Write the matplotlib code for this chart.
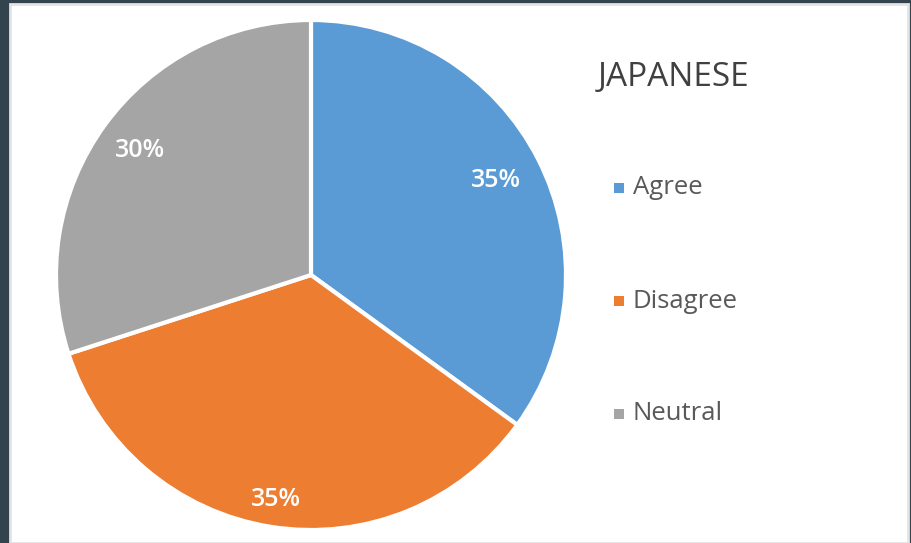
import matplotlib.pyplot as plt
from matplotlib.patches import Rectangle
import numpy as np

# Dados do gráfico
categorias = ['Agree', 'Disagree', 'Neutral']
valores = [35, 35, 30]
cores = ['#5B9BD5', '#ED7D31', '#A5A5A5']
titulo = 'JAPANESE'
dist_rotulos = [0.815, 0.89, 0.83]   # distância radial de cada rótulo percentual

plt.rcParams['font.family'] = ['Open Sans', 'DejaVu Sans']

W, H = 912, 543
fig = plt.figure(figsize=(W / 100, H / 100), dpi=100)
fig.patch.set_facecolor('#34444F')

# Área branca do slide
fig.patches.append(Rectangle((10 / W, 0), 898 / W, 539 / H, transform=fig.transFigure,
                             facecolor='white', edgecolor='#E4E4E4', linewidth=2, zorder=-1))

# Eixo da pizza: centro (311, 275), raio 255 px
cx, cy, r = 311, 275, 255
ax = fig.add_axes([(cx - r) / W, (H - cy - r) / H, 2 * r / W, 2 * r / H])

wedges, _ = ax.pie(valores, colors=cores, startangle=90, counterclock=False,
                   wedgeprops={'edgecolor': 'white', 'linewidth': 3})
ax.set_xlim(-1, 1)
ax.set_ylim(-1, 1)
ax.set_aspect('equal')
ax.axis('off')

for w, v, d in zip(wedges, valores, dist_rotulos):
    ang = np.deg2rad((w.theta1 + w.theta2) / 2)
    ax.text(d * np.cos(ang), d * np.sin(ang), f'{v}%', color='white', fontsize=18,
            fontweight='semibold', ha='center', va='center')

# Legenda
fig.text(598 / W, 1 - 77 / H, titulo, fontsize=24, color='#404040', ha='left', va='center')
for i, (cat, cor) in enumerate(zip(categorias, cores)):
    y = 1 - (188 + 113 * i) / H
    fig.patches.append(Rectangle((614 / W, y - 5 / H), 10 / W, 10 / H,
                                 transform=fig.transFigure, facecolor=cor, edgecolor='none'))
    fig.text(633 / W, y, cat, fontsize=18.5, color='#595959', ha='left', va='center')

fig.savefig('out.png', dpi=100, facecolor=fig.get_facecolor())
